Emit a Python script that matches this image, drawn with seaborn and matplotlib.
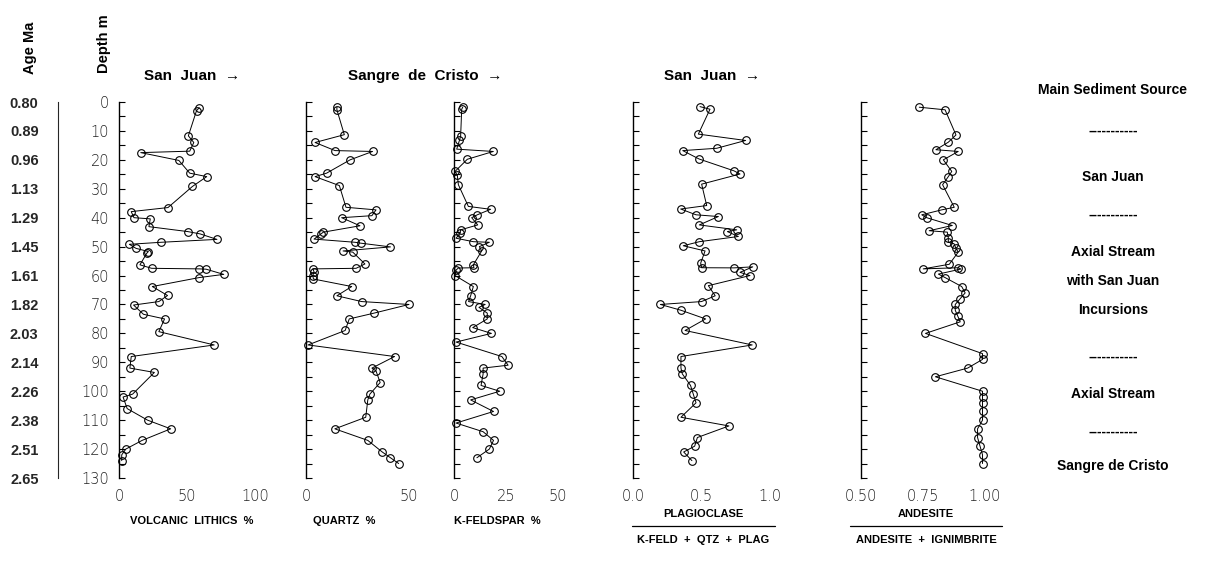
import matplotlib
matplotlib.use("Agg")
import matplotlib.pyplot as plt
from matplotlib.ticker import MultipleLocator, FixedLocator, FixedFormatter
from matplotlib.lines import Line2D
import seaborn as sns
import pandas as pd

sns.set_style("white")
plt.rcParams['font.family'] = ['Liberation Sans', 'DejaVu Sans']

# ---------------- data ----------------
age_labels = ["0.80", "0.89", "0.96", "1.13", "1.29", "1.45", "1.61", "1.82",
              "2.03", "2.14", "2.26", "2.38", "2.51", "2.65"]
depth_ticks = [0, 10, 20, 30, 40, 50, 60, 70, 80, 90, 100, 110, 120, 130]

lith_depth = [2, 3, 11.7, 14, 17, 17.5, 20.2, 24.6, 25.8, 29.2, 36.5, 37.9, 40.0, 40.4, 43.1,
              44.8, 45.6, 47.5, 48.5, 49.2, 50.6, 51.7, 52.3, 56.3, 57.5, 57.7, 57.8, 59.6,
              60.7, 63.8, 66.9, 69.0, 70.2, 73.4, 75.0, 79.4, 84, 88, 92, 93.5, 101, 102,
              106, 110, 113, 117, 120, 122, 124]
lith_val = [59, 57, 51, 55, 52, 16, 44, 52, 64.5, 54, 36, 9, 11, 23, 22,
            50.5, 59.6, 72, 31, 7.6, 12.5, 21.6, 20.4, 15.4, 24, 59, 64, 77,
            59, 24.5, 35.7, 29.3, 10.7, 18, 33.5, 29.3, 70, 9, 8, 26, 10, 3,
            6, 21, 38, 17, 5, 2, 2]

qtz_depth = [1.8, 2.7, 11.3, 14.0, 16.8, 17.1, 20.0, 24.6, 25.8, 28.9, 36.4, 37.3, 39.3, 40.0,
             42.8, 45.0, 45.7, 47.4, 48.5, 48.8, 50.1, 51.5, 51.9, 56.0, 57.5, 57.7, 58.7,
             60.0, 61.2, 63.8, 67, 69, 70, 73, 75, 79, 84, 88, 92, 93, 97, 101, 103, 109,
             113, 117, 121, 123, 125]
qtz_val = [15, 15, 18.6, 4.4, 14.1, 32.3, 21.4, 10, 4.4, 16.2, 19.4, 34, 32, 17.3,
           26.2, 8.4, 7.1, 3.9, 23.8, 26.5, 41, 18, 22.7, 28.6, 24.3, 3.3, 3.9,
           3.3, 3.6, 22.2, 15, 27, 50, 33, 21, 19, 1, 43, 32, 34, 36, 31, 30, 29,
           14, 30, 37, 41, 45]

kfs_depth = [1.8, 2.5, 11.7, 13.3, 16.3, 17.1, 19.8, 24.0, 25.4, 28.6, 36.1, 37.1, 39.0, 40.0,
             42.5, 44.2, 45.4, 47.1, 48.3, 48.5, 50.0, 51.5, 56.3, 57.3, 57.4, 58.1, 60.0,
             63.8, 67, 69, 70, 71, 73, 75, 78, 80, 83, 88, 91, 92, 94, 98, 100, 103, 107,
             111, 114, 117, 120, 123]
kfs_val = [4.2, 3.7, 3.2, 2.6, 1.3, 18.9, 6.4, 0.5, 1.6, 2.1, 6.9, 17.6, 11.2, 8.5,
           11.4, 3.2, 2.9, 1.0, 9.3, 17.0, 12.2, 13.3, 9.3, 9.6, 2.1, 1.0, 0.5,
           9.3, 8, 7, 15, 12, 16, 16, 9, 18, 1, 23, 26, 14, 14, 13, 22, 8, 19,
           1, 14, 19, 17, 11]

plag_depth = [1.6, 2.5, 11.1, 13.3, 16.0, 16.8, 19.7, 23.8, 24.9, 28.4, 35.8, 37.0, 39.0, 39.6,
              42.5, 44.2, 44.8, 46.5, 48.3, 49.7, 51.5, 55.7, 57.3, 57.35, 57.0, 58.9, 60.0,
              63.5, 67, 69, 70, 72, 75, 79, 84, 88, 92, 94, 98, 101, 104, 109, 112, 116,
              119, 121, 124]
plag_val = [0.489, 0.562, 0.477, 0.822, 0.611, 0.363, 0.482, 0.737, 0.781, 0.501, 0.538,
            0.348, 0.460, 0.623, 0.484, 0.757, 0.689, 0.769, 0.484, 0.367, 0.526, 0.494,
            0.501, 0.737, 0.874, 0.781, 0.854, 0.550, 0.6, 0.5, 0.2, 0.35, 0.53, 0.38,
            0.87, 0.35, 0.35, 0.36, 0.42, 0.44, 0.46, 0.35, 0.7, 0.47, 0.45, 0.37, 0.43]

and_depth = [1.8, 2.7, 11.4, 13.9, 16.5, 17.1, 20.0, 24.0, 25.8, 28.6, 36.4, 37.3, 39.0, 40.0,
             42.7, 44.5, 45.0, 46.9, 48.5, 49.0, 50.6, 51.9, 56.1, 57.7, 57.3, 57.75, 59.5,
             60.7, 63.8, 66, 68, 70, 72, 74, 76, 80, 87, 89, 92, 95, 100, 102, 104,
             107, 110, 113, 116, 119, 122, 125]
and_val = [0.735, 0.839, 0.883, 0.852, 0.802, 0.892, 0.832, 0.866, 0.852, 0.829, 0.876,
           0.825, 0.745, 0.765, 0.868, 0.775, 0.848, 0.852, 0.852, 0.875, 0.883, 0.892,
           0.856, 0.751, 0.892, 0.903, 0.812, 0.839, 0.906, 0.92, 0.90, 0.88, 0.88, 0.89,
           0.90, 0.76, 0.99, 0.99, 0.93, 0.80, 0.99, 0.99, 0.99, 0.99, 0.99, 0.97,
           0.97, 0.98, 0.99, 0.99]

# ---------------- layout ----------------
W, H = 1213, 562
fig = plt.figure(figsize=(W / 100, H / 100), dpi=100)
Y_TOP, Y_BOT = 102, 478  # pixel rows of depth 0 and 130


def add_ax(x0, x1):
    return fig.add_axes([x0 / W, 1 - Y_BOT / H, (x1 - x0) / W, (Y_BOT - Y_TOP) / H])


def ypx(y):
    return 1 - y / H


def xpx(x):
    return x / W


panels = [
    dict(x0=119, x1=255, lim=(0, 100), ticks=[0, 50, 100], tl=["0", "50", "100"],
         d=lith_depth, v=lith_val),
    dict(x0=306, x1=409, lim=(0, 50), ticks=[0, 50], tl=["0", "50"],
         d=qtz_depth, v=qtz_val),
    dict(x0=454, x1=558, lim=(0, 50), ticks=[0, 25, 50], tl=["0", "25", "50"],
         d=kfs_depth, v=kfs_val),
    dict(x0=633, x1=770, lim=(0, 1), ticks=[0, 0.5, 1.0], tl=["0.0", "0.5", "1.0"],
         d=plag_depth, v=plag_val),
    dict(x0=861, x1=985, lim=(0.5, 1.0), ticks=[0.5, 0.75, 1.0], tl=["0.50", "0.75", "1.00"],
         d=and_depth, v=and_val),
]

for i, p in enumerate(panels):
    ax = add_ax(p["x0"], p["x1"])
    df = pd.DataFrame({"val": p["v"], "depth": p["d"]})
    sns.lineplot(data=df, x="val", y="depth", sort=False, estimator=None, ax=ax,
                 color="black", linewidth=0.7, marker="o", markersize=5.5,
                 markerfacecolor="none", markeredgecolor="black", markeredgewidth=0.8,
                 clip_on=False)
    ax.set_xlim(*p["lim"])
    ax.set_ylim(130, 0)
    for s in ["top", "right", "bottom"]:
        ax.spines[s].set_visible(False)
    ax.spines["left"].set_linewidth(1.0)
    ax.spines["left"].set_color("black")
    ax.yaxis.set_major_locator(FixedLocator(depth_ticks))
    ax.yaxis.set_minor_locator(MultipleLocator(5))
    ax.tick_params(axis="y", which="both", direction="in", length=4, width=0.8,
                   left=True, colors="black")
    if i == 0:
        ax.set_yticklabels([str(t) for t in depth_ticks], fontsize=10.5,
                           fontfamily="DejaVu Sans", fontweight="light", color="#222222")
        ax.tick_params(axis="y", pad=7)
    else:
        ax.set_yticklabels([])
    ax.set_xticks(p["ticks"])
    ax.set_xticklabels(p["tl"], fontsize=10.5, fontfamily="DejaVu Sans",
                       fontweight="light", color="#222222")
    ax.tick_params(axis="x", which="both", length=0, pad=8)
    ax.set_xlabel("")
    ax.set_ylabel("")
    ax.patch.set_alpha(0)

# ---------------- age axis ----------------
age_ax = fig.add_axes([58 / W, 1 - Y_BOT / H, 0.0001, (Y_BOT - Y_TOP) / H])
age_ax.set_ylim(130, 0)
for s in ["top", "right", "bottom"]:
    age_ax.spines[s].set_visible(False)
age_ax.set_xticks([])
age_ax.yaxis.set_major_locator(FixedLocator(depth_ticks))
age_ax.yaxis.set_major_formatter(FixedFormatter(age_labels))
age_ax.yaxis.set_minor_locator(MultipleLocator(5))
age_ax.tick_params(axis="y", which="both", direction="out", length=4, width=0.8, pad=10)
for lab in age_ax.get_yticklabels():
    lab.set_fontweight("bold")
    lab.set_fontsize(10.5)
age_ax.patch.set_alpha(0)

# ---------------- texts ----------------
bold = dict(fontweight="bold", color="black")
fig.text(xpx(30), ypx(48), "Age Ma", rotation=90, ha="center", va="center", fontsize=10.5, **bold)
fig.text(xpx(104), ypx(44), "Depth m", rotation=90, ha="center", va="center", fontsize=10.5, **bold)
fig.text(xpx(192), ypx(76), "San  Juan  →", ha="center", va="center", fontsize=11, **bold)
fig.text(xpx(425), ypx(76), "Sangre  de  Cristo  →", ha="center", va="center", fontsize=11, **bold)
fig.text(xpx(712), ypx(76), "San  Juan  →", ha="center", va="center", fontsize=11, **bold)

fig.text(xpx(192), ypx(521), "VOLCANIC  LITHICS  %", ha="center", va="center", fontsize=8, **bold)
fig.text(xpx(344), ypx(521), "QUARTZ  %", ha="center", va="center", fontsize=8, **bold)
fig.text(xpx(497), ypx(521), "K-FELDSPAR  %", ha="center", va="center", fontsize=8, **bold)

fig.text(xpx(703), ypx(514), "PLAGIOCLASE", ha="center", va="center", fontsize=8, **bold)
fig.text(xpx(703), ypx(540), "K-FELD  +  QTZ  +  PLAG", ha="center", va="center", fontsize=8, **bold)
fig.add_artist(Line2D([xpx(632), xpx(775)], [ypx(526), ypx(526)], color="black", lw=0.9))
fig.text(xpx(926), ypx(514), "ANDESITE", ha="center", va="center", fontsize=8, **bold)
fig.text(xpx(926), ypx(540), "ANDESITE  +  IGNIMBRITE", ha="center", va="center", fontsize=8, **bold)
fig.add_artist(Line2D([xpx(850), xpx(1002)], [ypx(526), ypx(526)], color="black", lw=0.9))


def dpx(depth):
    return Y_TOP + depth * (Y_BOT - Y_TOP) / 130.0


right_x = xpx(1113)
fig.text(right_x, ypx(90), "Main Sediment Source", ha="center", va="center", fontsize=10, **bold)
right_items = [(10, "-----------"), (26, "San Juan"), (39, "-----------"), (52, "Axial Stream"),
               (62, "with San Juan"), (72, "Incursions"), (88, "-----------"),
               (101, "Axial Stream"), (114, "-----------"), (126, "Sangre de Cristo")]
for d, t in right_items:
    fig.text(right_x, ypx(dpx(d)), t, ha="center", va="center", fontsize=10, **bold)

fig.savefig("out.png", dpi=100, facecolor="white")
